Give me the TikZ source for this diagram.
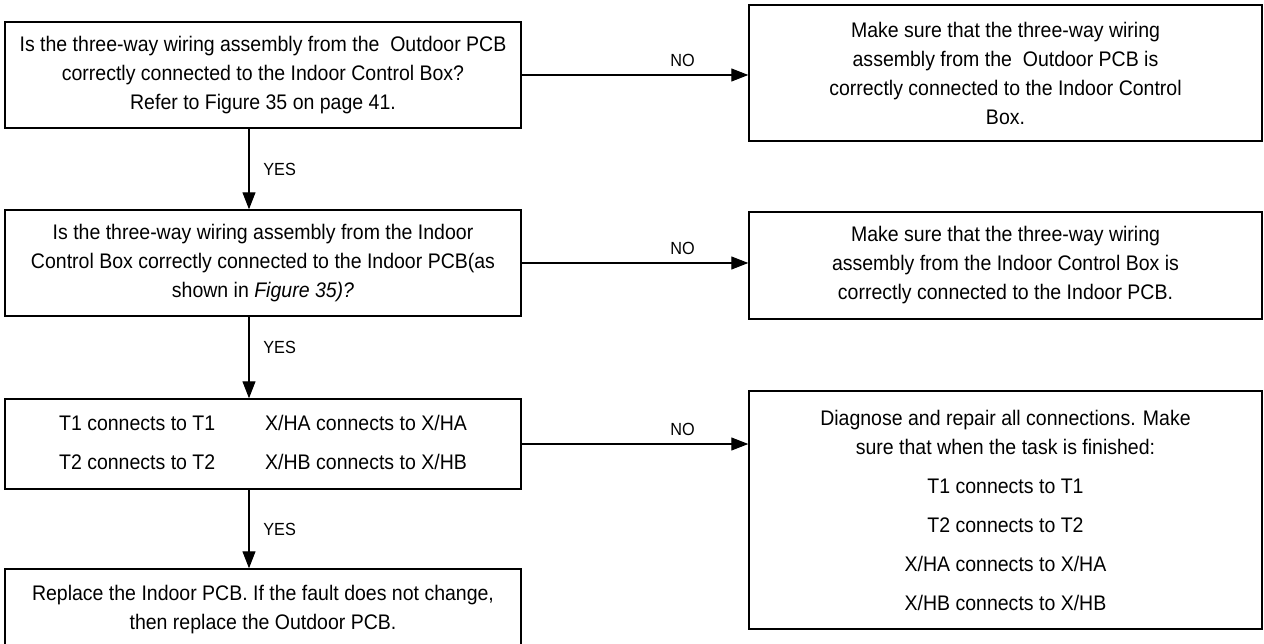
\documentclass[tikz,border=0pt]{standalone}
\usepackage{fontspec}
\setmainfont{Liberation Sans}[FakeStretch=0.925]
\usetikzlibrary{arrows.meta}

\begin{document}
\begin{tikzpicture}[font=\fontsize{12}{16.5}\selectfont,
  qbox/.style={draw,line width=0.8pt,align=center,inner sep=0pt,minimum width=10.32cm},
  abox/.style={draw,line width=0.8pt,align=center,inner sep=0pt,minimum width=10.26cm},
  flow/.style={-{Triangle[length=0.34cm,width=0.26cm]},line width=0.6pt},
  lbl/.style={font=\fontsize{10}{12}\selectfont}]
\useasboundingbox (0,0) rectangle (25.28,-12.88);
% questions
\node[qbox,minimum height=2.12cm] (q1) at (5.26,-1.5) {Is the three-way wiring assembly from the \ Outdoor PCB\\ correctly connected to the Indoor Control Box?\\ Refer to Figure 35 on page 41.};
\node[qbox,minimum height=2.12cm] (q2) at (5.26,-5.26) {Is the three-way wiring assembly from the Indoor\\ Control Box correctly connected to the Indoor PCB(as\\ shown in \textit{Figure 35)?}};
\node[qbox,minimum height=1.8cm] (q3) at (5.26,-8.88) {\begin{tabular}{@{}c@{\hspace{1cm}}c@{}}
T1 connects to T1 & X/HA connects to X/HA\\[5.7pt]
T2 connects to T2 & X/HB connects to X/HB
\end{tabular}};
\node[qbox,minimum height=1.62cm] (q4) at (5.26,-12.19) {Replace the Indoor PCB. If the fault does not change,\\ then replace the Outdoor PCB.};
% actions
\node[abox,minimum height=2.72cm] (a1) at (20.11,-1.46) {Make sure that the three-way wiring\\ assembly from the \ Outdoor PCB is\\ correctly connected to the Indoor Control\\ Box.};
\node[abox,minimum height=2.14cm] (a2) at (20.11,-5.31) {Make sure that the three-way wiring\\ assembly from the Indoor Control Box is\\ correctly connected to the Indoor PCB.};
\node[abox,minimum height=4.76cm] (a3) at (20.11,-10.2) {Diagnose and repair all connections. Make\\ sure that when the task is finished:\\[5.7pt]
T1 connects to T1\\[5.7pt] T2 connects to T2\\[5.7pt] X/HA connects to X/HA\\[5.7pt] X/HB connects to X/HB};
% yes
\draw[flow] ([xshift=-0.28cm]q1.south) -- node[lbl,right=0.16cm,pos=0.5] (y1) {YES} ([xshift=-0.28cm]q2.north);
\draw[flow] ([xshift=-0.28cm]q2.south) -- node[lbl,right=0.16cm,pos=0.38] (y2) {YES} ([xshift=-0.28cm]q3.north);
\draw[flow] ([xshift=-0.28cm]q3.south) -- node[lbl,right=0.16cm,pos=0.5] (y3) {YES} ([xshift=-0.28cm]q4.north);
% no
\draw[flow] (q1.east) -- node[lbl,above=0.04cm,pos=0.71] (n1) {NO} (q1.east -| a1.west);
\draw[flow] (q2.east) -- node[lbl,above=0.04cm,pos=0.71] (n2) {NO} (q2.east -| a2.west);
\draw[flow] (q3.east) -- node[lbl,above=0.04cm,pos=0.71] (n3) {NO} (q3.east -| a3.west);
\end{tikzpicture}
\end{document}
